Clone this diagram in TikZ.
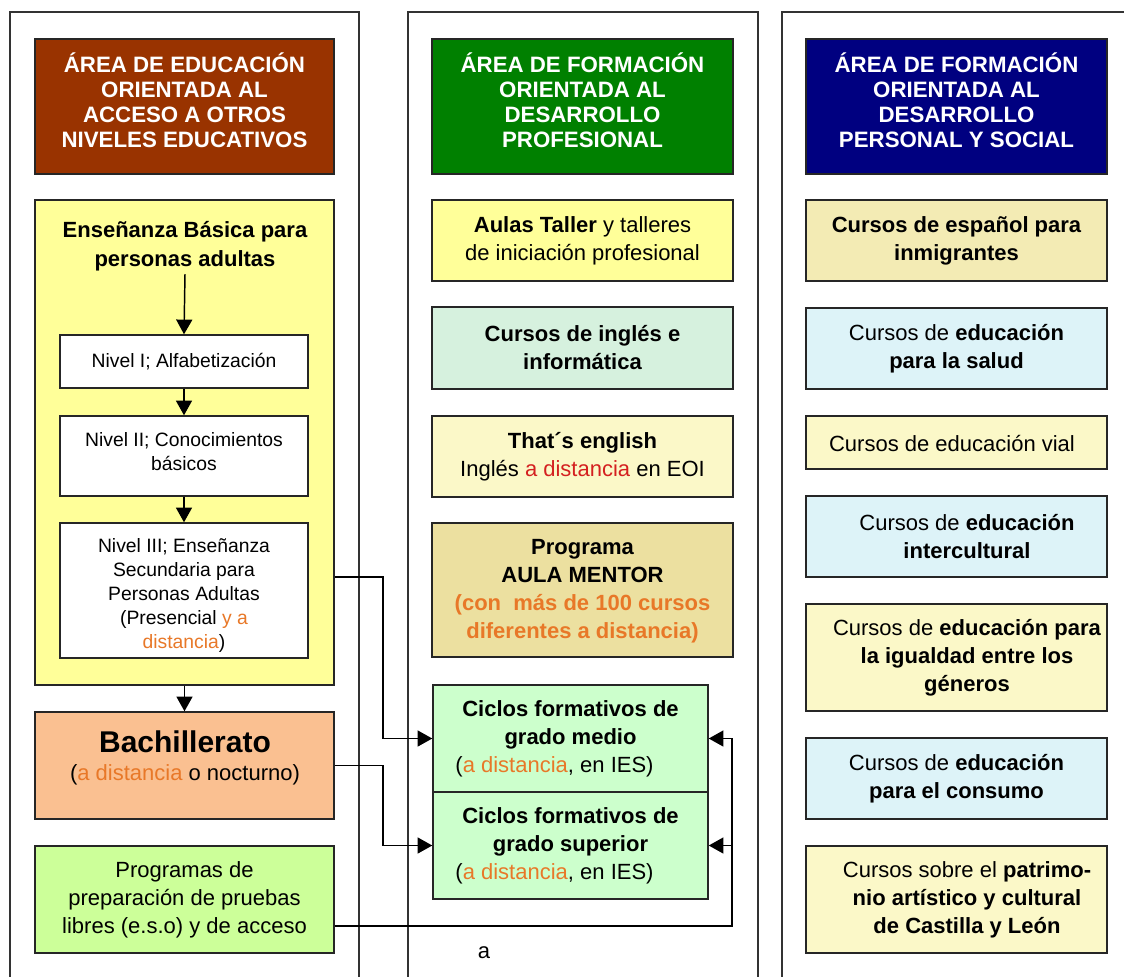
\documentclass[tikz,border=0pt]{standalone}
\usepackage{fontspec}
\setmainfont{Liberation Sans}
\usetikzlibrary{arrows.meta,fit,calc}

\definecolor{hdrbrown}{RGB}{153,51,0}
\definecolor{hdrgreen}{RGB}{0,128,0}
\definecolor{hdrnavy}{RGB}{0,0,128}
\definecolor{paleyellow}{RGB}{255,255,153}
\definecolor{creamy}{RGB}{251,248,200}
\definecolor{parchment}{RGB}{243,235,180}
\definecolor{parchdark}{RGB}{236,224,160}
\definecolor{mint}{RGB}{214,241,222}
\definecolor{paleblue}{RGB}{221,243,248}
\definecolor{peach}{RGB}{250,192,145}
\definecolor{lime}{RGB}{204,255,153}
\definecolor{palegreen}{RGB}{204,255,204}
\definecolor{accent}{RGB}{232,120,40}
\definecolor{accentred}{RGB}{212,32,32}

\newcommand{\orng}[1]{\textcolor{accent}{#1}}

\begin{document}
\begin{tikzpicture}[x=0.75pt,y=-0.75pt,
  frame/.style={draw=black!80, line width=0.8pt, inner sep=0pt},
  box/.style={draw=black!85, line width=1.1pt, inner sep=0pt},
  txt/.style={inner sep=0pt, align=center, font=\fontsize{16.5}{21}\selectfont},
  btxt/.style={txt, font=\bfseries\fontsize{16.5}{21}\selectfont},
  htxt/.style={txt, text=white, font=\bfseries\fontsize{16.7}{18.8}\selectfont},
  ltxt/.style={txt, font=\fontsize{14.5}{18}\selectfont},
  conn/.style={draw=black, line width=1.1pt},
  arr/.style={conn, -{Triangle[length=11pt,width=12pt]}}]

\useasboundingbox (0,0) rectangle (1124,976);
\clip (0,0) rectangle (1124,976);
\fill[white] (0,0) rectangle (1124,976);

% the three area columns
\node[frame, fit={(10,12) (359,995)}] (colA) {};
\node[frame, fit={(408,12) (758,995)}] (colB) {};
\node[frame, fit={(782,12) (1140,995)}] (colC) {};

% column headers
\node[box, fill=hdrbrown, fit={(35,39) (334,174)}] (hA) {};
\node[htxt] (hAT) at (184.5,100)
  {ÁREA DE EDUCACIÓN\\ORIENTADA AL\\ACCESO A OTROS\\NIVELES EDUCATIVOS};
\node[box, fill=hdrgreen, fit={(432,39) (733,174)}] (hB) {};
\node[htxt] (hBT) at (582.5,100)
  {ÁREA DE FORMACIÓN\\ORIENTADA AL\\DESARROLLO\\PROFESIONAL};
\node[box, fill=hdrnavy, fit={(806,39) (1107,174)}] (hC) {};
\node[htxt] (hCT) at (956.5,100)
  {ÁREA DE FORMACIÓN\\ORIENTADA AL\\DESARROLLO\\PERSONAL Y SOCIAL};

% left column
\node[box, fill=paleyellow, fit={(35,200) (334,685)}] (basic) {};
\node[txt, font=\bfseries\fontsize{16.5}{22}\selectfont] (basicT) at (185,246)
  {Enseñanza Básica para\\personas adultas};
\node[box, fill=white, fit={(60,335) (308,388)}] (n1) {};
\node[ltxt] (n1T) at (n1) {Nivel I; Alfabetización};
\node[box, fill=white, fit={(60,416) (308,496)}] (n2) {};
\node[ltxt] (n2T) at (184,452) {Nivel II; Conocimientos\\básicos};
\node[box, fill=white, fit={(60,523) (308,658)}] (n3) {};
\node[ltxt] (n3T) at (184,595)
  {Nivel III; Enseñanza\\Secundaria para\\Personas Adultas\\(Presencial \orng{y a}\\\orng{distancia})};
\node[box, fill=peach, fit={(35,712) (334,819)}] (bach) {};
\node[txt] (bachT) at (185,758)
  {{\bfseries\fontsize{22.5}{26}\selectfont Bachillerato}\\(\orng{a distancia} o nocturno)};
\node[box, fill=lime, fit={(35,846) (334,953)}] (prog) {};
\node[txt] (progT) at (prog)
  {Programas de\\preparación de pruebas\\libres (e.s.o) y de acceso};

% middle column
\node[box, fill=paleyellow, fit={(432,200) (733,281)}] (aulas) {};
\node[txt] (aulasT) at (aulas)
  {\textbf{Aulas Taller} y talleres\\de iniciación profesional};
\node[box, fill=mint, fit={(432,307) (733,389)}] (ingles) {};
\node[btxt] (inglesT) at (ingles) {Cursos de inglés e\\informática};
\node[box, fill=creamy, fit={(432,416) (733,497)}] (thats) {};
\node[txt] (thatsT) at (thats)
  {\textbf{That´s english}\\Inglés \textcolor{accentred}{a distancia} en EOI};
\node[box, fill=parchdark, fit={(432,523) (733,657)}] (mentor) {};
\node[btxt] (mentorT) at (582.5,591)
  {Programa\\AULA MENTOR\\\orng{(con~ más de 100 cursos}\\\orng{diferentes a distancia)}};
\node[box, fill=palegreen, fit={(433,685) (708,792)}] (medio) {};
\node[txt] (medioT) at (medio)
  {\textbf{Ciclos formativos de}\\\textbf{grado medio}\\(\orng{a distancia}, en IES)\hspace*{24pt}};
\node[box, fill=palegreen, fit={(433,792) (708,899)}] (sup) {};
\node[txt] (supT) at (sup)
  {\textbf{Ciclos formativos de}\\\textbf{grado superior}\\(\orng{a distancia}, en IES)\hspace*{24pt}};
\node[txt] (note) at (484,953) {a};

% right column
\node[box, fill=parchment, fit={(806,200) (1107,281)}] (esp) {};
\node[btxt] (espT) at (esp) {Cursos de español para\\inmigrantes};
\node[box, fill=paleblue, fit={(806,308) (1107,389)}] (salud) {};
\node[txt] (saludT) at (salud) {Cursos de \textbf{educación}\\\textbf{para la salud}};
\node[box, fill=creamy, fit={(806,416) (1107,469)}] (vial) {};
\node[txt] (vialT) at (952,443) {Cursos de educación vial};
\node[box, fill=paleblue, fit={(806,496) (1107,577)}] (inter) {};
\node[txt] (interT) at (967,537) {Cursos de \textbf{educación}\\\textbf{intercultural}};
\node[box, fill=creamy, fit={(806,604) (1107,711)}] (igual) {};
\node[txt] (igualT) at (967,658)
  {Cursos de \textbf{educación para}\\\textbf{la igualdad entre los}\\\textbf{géneros}};
\node[box, fill=paleblue, fit={(806,738) (1107,819)}] (consumo) {};
\node[txt] (consumoT) at (consumo) {Cursos de \textbf{educación}\\\textbf{para el consumo}};
\node[box, fill=creamy, fit={(806,846) (1107,953)}] (patr) {};
\node[txt] (patrT) at (967,900)
  {Cursos sobre el \textbf{patrimo-}\\\textbf{nio artístico y cultural}\\\textbf{de Castilla y León}};

% flow inside the basic-education block
\coordinate (basicOut) at (185,274);
\draw[arr] (basicOut) -- (n1.north);
\draw[arr] (n1.south) -- (n2.north);
\draw[arr] (n2.south) -- (n3.north);
\draw[arr] (basic.south) -- (bach.north);

% links to the vocational cycles
\coordinate (jA) at (383,577);
\coordinate (py) at (732,926);
\draw[arr] (basic.east |- jA) -- (jA) |- (medio.west);
\draw[arr] (bach.east) -- (bach.east -| jA) |- (sup.west);
\draw[arr] (prog.east |- py) -- (py) |- (medio.east);
\draw[arr] (py |- sup.east) -- (sup.east);
\end{tikzpicture}
\end{document}
